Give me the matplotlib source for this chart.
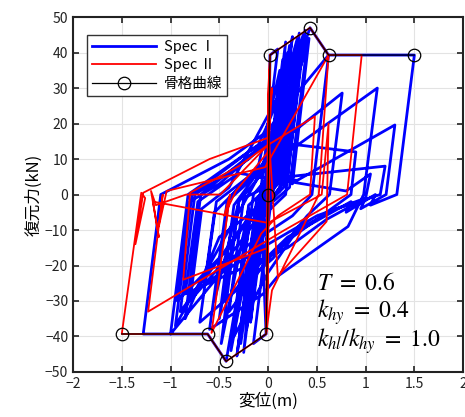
import matplotlib
matplotlib.use("Agg")
import matplotlib.pyplot as plt

plt.rcParams['font.family'] = ['Noto Sans CJK JP', 'DejaVu Sans']
plt.rcParams['mathtext.fontset'] = 'stix'

# Spec I hysteresis path (turning points)
spec1_x = [0.00, 0.01, -0.01, 0.02, 0.10, -0.08, -0.02, -0.15, 0.03, 0.06,
           0.18, -0.01, -0.12, -0.25, -0.05, 0.05, 0.25, 0.06, -0.14, -0.32,
           -0.12, 0.08, 0.32, 0.12, -0.20, -0.43, -0.62, -1.00, -0.82, -0.10,
           0.00, 0.38, 0.20, -0.30, -0.80, -0.68, -0.40, 0.15, 0.02, -0.55,
           -0.90, -0.75, -0.20, 0.05, 0.43, 0.62, 0.45, 0.25, -0.30, -1.00,
           -1.28, -1.10, -0.40, 0.00, 0.10, 0.62, 1.50, 1.32, 1.05, 1.10,
           0.80, 0.85, 0.20, -0.10, -0.45, -0.30, 0.00, 1.12, 0.98, 0.82,
           0.10, -0.05, -0.60, -0.42, -0.10, 0.00, 0.76, 0.63, 0.40, 0.05,
           -0.70, -0.53, -0.20, 0.30, 1.30, 1.21, 0.95, 1.00, 0.60, 0.20,
           -0.85, -0.72, -0.30, 0.80, 1.05, 1.00, 0.50, 0.00, -0.65, -0.55,
           0.00, 0.28, 0.10, -0.35, -0.50, -0.35, 0.05, 0.40, 0.22, -0.20,
           -0.30, -0.15, 0.00,
           0.15, 0.05, 0.22, 0.10, 0.30, 0.15, 0.36, 0.18, -0.05, -0.22,
           -0.08, -0.28, -0.12, -0.38, -0.20, -0.48, -0.30, -0.55, -0.40, -0.10,
           0.12, 0.00, 0.20, 0.06, -0.15, -0.05, -0.25, -0.10, 0.05, 0.42,
           0.25, 0.00, -0.30, -0.95, -0.78, -0.20, 0.02, 0.30, 0.12, -0.50,
           -0.85, -0.69, -0.10, 0.05, 0.20, 0.02, -0.40, -0.93, -0.80, -0.50,
           0.00, 0.90, 0.85, 0.10, -0.05, -0.40, -0.25, 0.20, 1.20, 1.15,
           0.70, 0.30, 0.00, -0.35, -0.20, 0.08, 0.34, 0.16, -0.02, -0.18,
           -0.04, 0.03]
spec1_y = [0.0, 20.0, -18.0, 39.3, 41.0, 0.0, -39.3, -42.0, -2.0, 5.0,
           43.0, 0.0, -8.0, -44.5, -1.0, 6.0, 44.5, 3.0, -9.0, -45.5,
           -2.0, 9.0, 45.5, 2.0, -10.0, -47.0, -39.3, -39.3, 0.0, 14.0,
           20.0, 46.3, 5.0, -14.0, -30.0, -4.0, 2.0, 30.0, 2.0, -20.0,
           -33.0, 0.0, 10.0, 16.0, 47.0, 39.3, 0.0, -6.0, -16.0, -39.3,
           -39.3, 0.0, 10.0, 18.0, 22.0, 39.3, 39.3, 0.0, -3.0, 0.0,
           -5.0, -2.0, -12.0, -20.0, -30.0, -2.0, 8.0, 30.0, 0.0, -9.0,
           -23.0, -28.0, -38.0, -2.0, 6.0, 12.0, 28.6, 0.0, -6.0, -18.0,
           -36.0, -2.0, 5.0, 4.0, 19.6, 0.0, -4.0, -1.0, -7.0, -15.0,
           -28.0, -2.0, 6.0, 1.0, 5.8, -1.0, -6.0, -14.0, -25.0, -5.0,
           10.0, 40.0, 3.0, -12.0, -35.0, -3.0, 12.0, 42.0, 2.0, -8.0,
           -30.0, 0.0, 5.0,
           38.0, 8.0, 42.0, 6.0, 40.0, 4.0, 44.0, 0.0, -6.0, -38.0,
           -4.0, -42.0, -6.0, -44.0, -4.0, -42.0, -2.0, -30.0, -1.0, 8.0,
           35.0, 4.0, 36.0, 2.0, -25.0, -2.0, -35.0, -3.0, 10.0, 44.0,
           3.0, 10.0, -5.0, -37.0, 0.0, 12.0, 16.0, 44.0, 1.0, -12.0,
           -35.0, 0.0, 13.0, 18.0, 40.0, 2.0, -15.0, -30.0, -2.0, 3.0,
           15.0, 12.0, 0.0, -15.0, -20.0, -33.0, -1.0, 5.0, 8.0, 0.0,
           -4.0, -10.0, -22.0, -40.0, -3.0, 4.0, 43.0, 2.0, -3.0, -36.0,
           -2.0, 30.0]

# Spec II hysteresis path (turning points)
spec2_x = [0.00, 0.005, -0.005, 0.02, 0.00, -0.02, 0.00, 0.01, -0.01, -0.02,
           -0.43, -0.62, -1.50, -1.30, -1.26, -1.36, -1.28, -0.60, 0.00, 0.02,
           0.43, 0.62, 0.96, 0.81, 0.17, -1.23, -1.08, -1.12, -1.04, -0.03,
           0.62, 0.52, 0.04, -0.02, 0.00, -0.87, -0.80, -0.30, 0.00, 0.48,
           0.43, 0.10, -0.07, -0.58, -0.39, -0.45, -0.33, 0.00, 0.04, 0.00,
           0.10, 0.60, 0.62, 0.55, 0.00, -1.18, -1.12, -1.20, -1.15, -0.84,
           -0.49, 0.00, 0.01, -0.01, 0.00]
spec2_y = [0.0, 25.0, -25.0, 39.3, 28.0, -39.3, -22.0, 32.0, -30.0, -39.3,
           -47.0, -39.3, -39.3, 0.5, -1.0, -14.0, 0.5, 10.0, 16.0, 39.3,
           47.0, 39.3, 39.3, 0.0, -10.0, -33.0, 0.0, -9.0, 1.0, 7.7,
           39.3, 0.0, -27.0, -39.3, -15.0, -24.0, 0.5, 8.0, 14.0, 22.0,
           0.0, -6.0, -11.0, -39.0, 0.0, -6.0, 1.0, 12.0, 30.0, 20.0,
           -23.0, -7.6, 20.0, 0.0, -8.0, -2.0, -12.0, 1.0, -3.0, 0.0,
           0.0, 14.0, 35.0, -35.0, 0.0]

# skeleton curve
skel_x = [-1.50, -0.62, -0.43, -0.02, 0.00, 0.02, 0.43, 0.62, 1.50]
skel_y = [-39.3, -39.3, -47.0, -39.3, 0.0, 39.3, 47.0, 39.3, 39.3]

fig = plt.figure(figsize=(4.65, 4.17), dpi=100)
ax = fig.add_axes([0.157, 0.108, 0.839, 0.851])

ax.plot(spec1_x, spec1_y, color='#0000ff', lw=2.0, label='Spec Ⅰ')
ax.plot(spec2_x, spec2_y, color='#ff0000', lw=1.3, label='Spec Ⅱ')
ax.plot(skel_x, skel_y, color='k', lw=0.9, marker='o', ms=9,
        mfc='none', mec='k', mew=0.9, label='骨格曲線')

ax.set_xlim(-2, 2)
ax.set_ylim(-50, 50)
ax.set_xticks([-2, -1.5, -1, -0.5, 0, 0.5, 1, 1.5, 2])
ax.set_xticklabels(['−2', '−1.5', '−1', '−0.5', '0', '0.5', '1', '1.5', '2'])
ax.set_yticks(range(-50, 51, 10))
ax.grid(True, color='#e3e3e3', lw=0.8)
ax.set_axisbelow(True)
ax.tick_params(direction='in', top=True, right=True, labelsize=10,
               length=4, width=1.2, colors='#222222')
for s in ax.spines.values():
    s.set_linewidth(1.5)
    s.set_color('#222222')

ax.set_xlabel('変位(m)', fontsize=12, labelpad=1)
ax.set_ylabel('復元力(kN)', fontsize=12, labelpad=2)

ax.legend(loc='upper left', bbox_to_anchor=(0.036, 0.95), borderaxespad=0,
          fontsize=10.5, frameon=True, fancybox=False, edgecolor='#333333',
          framealpha=1, handlelength=4.4, borderpad=0.35, labelspacing=0.3,
          handletextpad=0.5)

ax.text(0.50, -25, r'$T\ =\ 0.6$', fontsize=17, va='center')
ax.text(0.50, -33.2, r'$k_{hy}\ =\ 0.4$', fontsize=17, va='center')
ax.text(0.50, -41.4, r'$k_{hl}/k_{hy}\ =\ 1.0$', fontsize=17, va='center')

fig.savefig('out.png', dpi=100)
